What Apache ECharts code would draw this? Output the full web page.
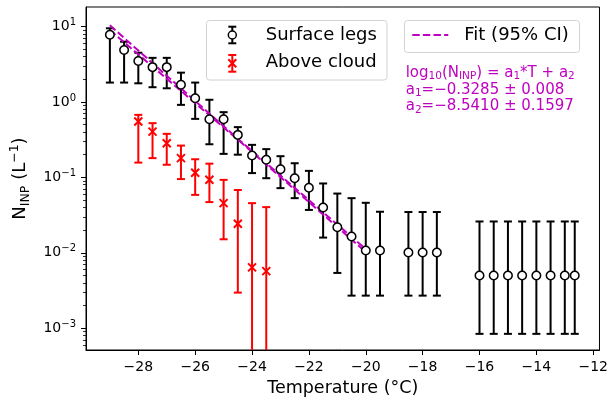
<!DOCTYPE html>
<html><head><meta charset="utf-8">
<script src="https://cdn.jsdelivr.net/npm/echarts@6/dist/echarts.min.js"></script>
<style>html,body{margin:0;padding:0;background:#fff}#c{width:611px;height:402px}</style>
</head><body><div id="c"></div>
<script>
// ---- data ----
const surfT  = [-29, -28.5, -28, -27.5, -27, -26.5, -26, -25.5, -25, -24.5, -24, -23.5, -23, -22.5, -22, -21.5, -21, -20.5, -20, -19.5, -18.5, -18, -17.5, -16, -15.5, -15, -14.5, -14, -13.5, -13, -12.65];
const surfN  = [7.8, 4.9, 3.5, 2.9, 2.9, 1.69, 1.12, 0.59, 0.59, 0.366, 0.195, 0.171, 0.128, 0.0975, 0.073, 0.0398, 0.0218, 0.0164, 0.0107, 0.0107, 0.0101, 0.0101, 0.0101, 0.005, 0.005, 0.005, 0.005, 0.005, 0.005, 0.005, 0.005];
const surfLo = [1.81, 1.81, 1.77, 1.57, 1.52, 0.916, 0.597, 0.275, 0.205, 0.20, 0.114, 0.0975, 0.072, 0.053, 0.037, 0.0159, 0.0054, 0.0027, 0.0027, 0.0027, 0.0027, 0.0027, 0.0027, 0.00084, 0.00084, 0.00084, 0.00084, 0.00084, 0.00084, 0.00084, 0.00084];
const surfHi = [9.5, 6.3, 4.5, 3.85, 3.85, 2.45, 1.81, 1.07, 0.733, 0.464, 0.27, 0.237, 0.191, 0.154, 0.122, 0.083, 0.061, 0.053, 0.046, 0.035, 0.0347, 0.0347, 0.0347, 0.026, 0.026, 0.026, 0.026, 0.026, 0.026, 0.026, 0.026];

const cloudT  = [-28, -27.5, -27, -26.5, -26, -25.5, -25, -24.5, -24, -23.5];
const cloudN  = [0.55, 0.405, 0.284, 0.18, 0.115, 0.093, 0.0455, 0.0243, 0.0064, 0.0057];
const cloudLo = [0.157, 0.18, 0.147, 0.095, 0.0586, 0.047, 0.0151, 0.00296, null, null];
const cloudHi = [0.675, 0.524, 0.378, 0.264, 0.174, 0.152, 0.0927, 0.068, 0.0455, 0.0403];

const fitT     = [-29, -24.5, -20];
const fitUpper = [10.4, 0.325, 0.0112];
const fitLower = [9.0, 0.317, 0.0102];

const xTicks = [-28, -26, -24, -22, -20, -18, -16, -14, -12];
const yTicks = [0.001, 0.01, 0.1, 1, 10];
const xMin = -29.84, xMax = -11.78;
const yMin = 5.13e-4, yMax = 18.2;

// ---- build ----
const FONT = 'DejaVu Sans';
const MAG = '#bf00bf';
const yMinor = [];
yTicks.concat([100]).forEach(function (t) { for (let m = 2; m <= 9; m++) { const v = +(m * t / 10).toPrecision(3); if (v > yMin && v < yMax) yMinor.push(v); } });
yMinor.sort(function (a, b) { return a - b; });

function fmtX(v) { return (v < 0 ? '\u2212' : '') + Math.abs(v); }
function fmtY(v) { const e = Math.round(Math.log10(v)); return '{b|10}{s|' + (e < 0 ? '\u2212' : '') + Math.abs(e) + '}'; }

function errData(T, lo, hi) {
  return T.map(function (t, i) { return [t, lo[i] == null ? yMin / 10 : lo[i], hi[i], lo[i] == null ? 0 : 1]; });
}
function errRender(color) {
  return function (params, api) {
    const t = api.value(0), lo = api.value(1), hi = api.value(2), capLo = api.value(3);
    const pH = api.coord([t, hi]);
    const pL = api.coord([t, lo]);
    const st = { stroke: color, lineWidth: 2 };
    const ch = [
      { type: 'line', shape: { x1: pH[0], y1: pH[1], x2: pL[0], y2: pL[1] }, style: st },
      { type: 'line', shape: { x1: pH[0] - 4, y1: pH[1], x2: pH[0] + 4, y2: pH[1] }, style: st }
    ];
    if (capLo) ch.push({ type: 'line', shape: { x1: pL[0] - 4, y1: pL[1], x2: pL[0] + 4, y2: pL[1] }, style: st });
    return { type: 'group', children: ch };
  };
}
const XPATH = 'path://M0,0L10,10M10,0L0,10';

const subRich = {
  n: { fontSize: 18, lineHeight: 24, fontFamily: FONT, color: '#000' },
  sub: { fontSize: 12.5, lineHeight: 12, verticalAlign: 'bottom', fontFamily: FONT, color: '#000' },
  sup: { fontSize: 12.5, lineHeight: 12, verticalAlign: 'top', fontFamily: FONT, color: '#000' }
};
const eqRich = {
  n: { fontSize: 15, lineHeight: 18, fontFamily: FONT, fill: MAG },
  s: { fontSize: 10.5, lineHeight: 10, verticalAlign: 'bottom', fontFamily: FONT, fill: MAG }
};

const option = {
  animation: false,
  textStyle: { fontFamily: FONT },
  grid: { left: 86, top: 7, right: 7, bottom: 52, show: true, borderColor: '#000', borderWidth: 1, backgroundColor: 'transparent' },
  xAxis: {
    type: 'value', min: xMin, max: xMax,
    name: 'Temperature (°C)', nameLocation: 'middle', nameGap: 29,
    nameTextStyle: { fontSize: 17.5, color: '#000', fontFamily: FONT },
    axisLine: { show: true, onZero: false, lineStyle: { color: '#000', width: 1 } },
    axisTick: { show: true, length: 5, lineStyle: { color: '#000', width: 1 }, customValues: xTicks },
    axisLabel: { margin: 10, fontSize: 14, color: '#000', formatter: fmtX, customValues: xTicks },
    splitLine: { show: false }
  },
  yAxis: [{
    type: 'log', logBase: 10, min: yMin, max: yMax,
    name: '{n|N}{sub|INP}{n| (L}{sup|\u22121}{n|)}', nameLocation: 'middle', nameGap: 44, nameRotate: 90,
    nameTextStyle: { rich: subRich },
    axisLine: { show: true, lineStyle: { color: '#000', width: 1 } },
    axisTick: { show: true, length: 5, lineStyle: { color: '#000', width: 1 }, customValues: yTicks },
    axisLabel: { margin: 10, color: '#000', formatter: fmtY, customValues: yTicks,
      rich: { b: { fontSize: 14, lineHeight: 18, fontFamily: FONT, color: '#000' }, s: { fontSize: 10, lineHeight: 10, verticalAlign: 'top', fontFamily: FONT, color: '#000' } } },
    splitLine: { show: false }, minorTick: { show: false }
  }, {
    type: 'log', logBase: 10, min: yMin, max: yMax, position: 'left',
    axisLine: { show: false },
    axisTick: { show: true, length: 3, lineStyle: { color: '#000', width: 0.8 }, customValues: yMinor },
    axisLabel: { show: false }, splitLine: { show: false }
  }],
  series: [
    { type: 'custom', name: 'Surface legs err', renderItem: errRender('#000'), data: errData(surfT, surfLo, surfHi), encode: { x: 0, y: [1, 2] }, clip: true, z: 2, silent: true },
    { type: 'custom', name: 'Above cloud err', renderItem: errRender('#ff0000'), data: errData(cloudT, cloudLo, cloudHi), encode: { x: 0, y: [1, 2] }, clip: true, z: 2, silent: true },
    { type: 'line', name: 'Fit upper', data: fitT.map(function (t, i) { return [t, fitUpper[i]]; }), symbol: 'none', z: 3, silent: true, lineStyle: { color: MAG, width: 2, type: [7.4, 3.2] } },
    { type: 'line', name: 'Fit lower', data: fitT.map(function (t, i) { return [t, fitLower[i]]; }), symbol: 'none', z: 3, silent: true, lineStyle: { color: MAG, width: 2, type: [7.4, 3.2] } },
    { type: 'scatter', name: 'Surface legs', data: surfT.map(function (t, i) { return [t, surfN[i]]; }), symbol: 'circle', symbolSize: 8.5, z: 4, silent: true, itemStyle: { color: '#fff', borderColor: '#000', borderWidth: 1.5, opacity: 1 } },
    { type: 'scatter', name: 'Above cloud', data: cloudT.map(function (t, i) { return [t, cloudN[i]]; }), symbol: XPATH, symbolSize: 8, z: 4, silent: true, itemStyle: { color: 'rgba(0,0,0,0)', borderColor: '#ff0000', borderWidth: 2, opacity: 1 } }
  ],
  graphic: [
    // legend 1
    { type: 'rect', z: 100, shape: { x: 206.5, y: 20.5, width: 180.5, height: 59.5, r: 3 }, style: { fill: 'rgba(255,255,255,0.8)', stroke: '#d2d2d2', lineWidth: 1 } },
    { type: 'line', z: 101, shape: { x1: 232.3, y1: 26.7, x2: 232.3, y2: 43.3 }, style: { stroke: '#000', lineWidth: 2 } },
    { type: 'line', z: 101, shape: { x1: 228.3, y1: 26.7, x2: 236.3, y2: 26.7 }, style: { stroke: '#000', lineWidth: 2 } },
    { type: 'line', z: 101, shape: { x1: 228.3, y1: 43.3, x2: 236.3, y2: 43.3 }, style: { stroke: '#000', lineWidth: 2 } },
    { type: 'circle', z: 102, shape: { cx: 232.3, cy: 35, r: 4 }, style: { fill: '#fff', stroke: '#000', lineWidth: 1.5 } },
    { type: 'text', z: 101, style: { text: 'Surface legs', x: 265.7, y: 35, fill: '#000', font: '18px "DejaVu Sans"', verticalAlign: 'middle' } },
    { type: 'line', z: 101, shape: { x1: 232.3, y1: 55, x2: 232.3, y2: 71.7 }, style: { stroke: '#ff0000', lineWidth: 2 } },
    { type: 'line', z: 101, shape: { x1: 228.3, y1: 55, x2: 236.3, y2: 55 }, style: { stroke: '#ff0000', lineWidth: 2 } },
    { type: 'line', z: 101, shape: { x1: 228.3, y1: 71.7, x2: 236.3, y2: 71.7 }, style: { stroke: '#ff0000', lineWidth: 2 } },
    { type: 'line', z: 101, shape: { x1: 228.3, y1: 59.3, x2: 236.3, y2: 67.3 }, style: { stroke: '#ff0000', lineWidth: 2 } },
    { type: 'line', z: 101, shape: { x1: 236.3, y1: 59.3, x2: 228.3, y2: 67.3 }, style: { stroke: '#ff0000', lineWidth: 2 } },
    { type: 'text', z: 101, style: { text: 'Above cloud', x: 265.7, y: 62, fill: '#000', font: '18px "DejaVu Sans"', verticalAlign: 'middle' } },
    // legend 2
    { type: 'rect', z: 100, shape: { x: 404.5, y: 20.5, width: 175, height: 32, r: 3 }, style: { fill: 'rgba(255,255,255,0.8)', stroke: '#d2d2d2', lineWidth: 1 } },
    { type: 'line', z: 101, shape: { x1: 412.3, y1: 35, x2: 448.3, y2: 35 }, style: { stroke: MAG, lineWidth: 2, lineDash: [7.4, 3.2] } },
    { type: 'text', z: 101, style: { text: 'Fit (95% CI)', x: 464.3, y: 35, fill: '#000', font: '18px "DejaVu Sans"', verticalAlign: 'middle' } },
    // equation
    { type: 'text', z: 101, style: { text: '{n|log}{s|10}{n|(N}{s|INP}{n|) = a}{s|1}{n|*T + a}{s|2}', x: 405.7, y: 73, verticalAlign: 'middle', rich: eqRich } },
    { type: 'text', z: 101, style: { text: '{n|a}{s|1}{n|=\u22120.3285 \u00b1 0.008}', x: 405.7, y: 90, verticalAlign: 'middle', rich: eqRich } },
    { type: 'text', z: 101, style: { text: '{n|a}{s|2}{n|=\u22128.5410 \u00b1 0.1597}', x: 405.7, y: 106.5, verticalAlign: 'middle', rich: eqRich } }
  ]
};
const chart = echarts.init(document.getElementById('c'));
chart.setOption(option);
</script></body></html>
